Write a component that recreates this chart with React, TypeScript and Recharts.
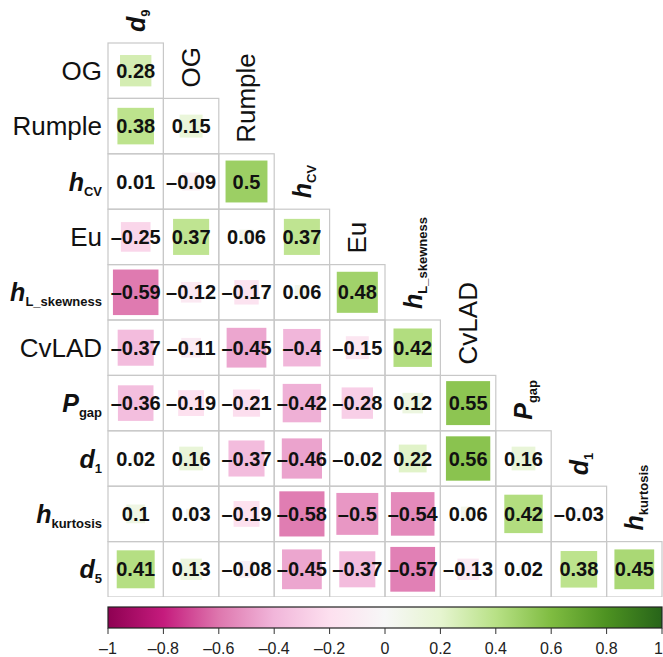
import React from "react";
import { ScatterChart, Scatter, XAxis, YAxis, ComposedChart, ReferenceArea } from "recharts";

// variable names: base symbol + subscript (symbols with a subscript are set in italic)
const labelBase = ["d", "OG", "Rumple", "h", "Eu", "h", "CvLAD", "P", "d", "h", "d"];
const labelSub = ["9", "", "", "CV", "", "L_skewness", "", "gap", "1", "kurtosis", "5"];

// lower triangle of the correlation matrix, one array per row (OG .. d5)
const rowOG = [0.28];
const rowRumple = [0.38, 0.15];
const rowHcv = [0.01, -0.09, 0.5];
const rowEu = [-0.25, 0.37, 0.06, 0.37];
const rowHskew = [-0.59, -0.12, -0.17, 0.06, 0.48];
const rowCvLAD = [-0.37, -0.11, -0.45, -0.4, -0.15, 0.42];
const rowPgap = [-0.36, -0.19, -0.21, -0.42, -0.28, 0.12, 0.55];
const rowD1 = [0.02, 0.16, -0.37, -0.46, -0.02, 0.22, 0.56, 0.16];
const rowHkurt = [0.1, 0.03, -0.19, -0.58, -0.5, -0.54, 0.06, 0.42, -0.03];
const rowD5 = [0.41, 0.13, -0.08, -0.45, -0.37, -0.57, -0.13, 0.02, 0.38, 0.45];

const corrRows = [rowOG, rowRumple, rowHcv, rowEu, rowHskew, rowCvLAD, rowPgap, rowD1, rowHkurt, rowD5];

// colour bar range and ticks
const barRange = [-1, 1];
const barTicks = [-1, -0.8, -0.6, -0.4, -0.2, 0, 0.2, 0.4, 0.6, 0.8, 1];

// PiYG diverging palette
const piygColors = [
  "#8e0152", "#c51b7d", "#de77ae", "#f1b6da", "#fde0ef", "#f7f7f7",
  "#e6f5d0", "#b8e186", "#7fbc41", "#4d9221", "#276419",
];

const FONT = "Arial, 'Liberation Sans', Helvetica, sans-serif";
const N = 10;
const W = 663;
const GRID_LEFT = 108;
const GRID_TOP = 43;
const GRID_SIZE = 554;
const CELL = GRID_SIZE / N;

const cells = corrRows.flatMap((row, r) =>
  row.map((v, c) => ({ x: c + 0.5, y: r + 0.5, v, r, c }))
);

const barData = barRange.map((x, i) => ({ x, y: i }));

const hex = (h: string) => [1, 3, 5].map((i) => parseInt(h.slice(i, i + 2), 16));

function piyg(v: number) {
  const t = Math.max(0, Math.min(1, (v + 1) / 2)) * (piygColors.length - 1);
  const i = Math.min(Math.floor(t), piygColors.length - 2);
  const f = t - i;
  const a = hex(piygColors[i]);
  const b = hex(piygColors[i + 1]);
  const m = a.map((x, k) => Math.round(x + (b[k] - x) * f));
  return `rgb(${m[0]},${m[1]},${m[2]})`;
}

const fmt = (v: number) => String(v).replace("-", "\u2013");

function VarLabel({ x, y, idx, anchor, rotate }: { x: number; y: number; idx: number; anchor: "start" | "end"; rotate?: boolean }) {
  const sub = labelSub[idx];
  const italic = sub !== "";
  return (
    <text
      x={x}
      y={y}
      textAnchor={anchor}
      fontFamily={FONT}
      fill="#111"
      transform={rotate ? `rotate(-90 ${x} ${y})` : undefined}
    >
      <tspan fontSize={italic ? 25 : 26} fontStyle={italic ? "italic" : "normal"} fontWeight={italic ? 700 : 400}>
        {labelBase[idx]}
      </tspan>
      {italic && (
        <tspan fontSize={13} fontWeight={700} dy={5}>
          {sub}
        </tspan>
      )}
    </text>
  );
}

const CorrCell = (props: any) => {
  const { cx, cy, payload } = props;
  const { v, r, c } = payload;
  const half = CELL / 2;
  const side = CELL * Math.sqrt(Math.abs(v)) * 1.07;
  return (
    <g>
      <rect x={cx - half} y={cy - half} width={CELL} height={CELL} fill="none" stroke="#c8c8c8" strokeWidth={1.2} />
      <rect x={cx - side / 2} y={cy - side / 2} width={side} height={side} fill={piyg(v)} />
      <text x={cx} y={cy + 7} textAnchor="middle" fontSize={20} fontWeight={700} fontFamily={FONT} fill="#111">
        {fmt(v)}
      </text>
      {c === 0 && <VarLabel x={cx - half - 6} y={cy + 9} idx={r + 1} anchor="end" />}
      {c === r && <VarLabel x={cx + 9} y={cy - half - 11} idx={c} anchor="start" rotate />}
    </g>
  );
};

const ColorBar = (p: any) => (
  <g>
    <defs>
      <linearGradient id="piygBar" x1="0" y1="0" x2="1" y2="0">
        {piygColors.map((col, i) => (
          <stop key={i} offset={i / (piygColors.length - 1)} stopColor={col} />
        ))}
      </linearGradient>
    </defs>
    <rect x={p.x} y={p.y} width={p.width} height={p.height} fill="url(#piygBar)" stroke="#222" strokeWidth={1.2} />
  </g>
);

// last label sits at the right page edge, so it is right-aligned there
const BarTick = (p: any) => {
  const { x, y, payload } = p;
  const last = payload.value === barTicks[barTicks.length - 1];
  return (
    <text
      x={last ? x + 1 : x}
      y={y}
      dy={17.5}
      textAnchor={last ? "end" : "middle"}
      fontSize={16}
      fontFamily={FONT}
      fill="#222"
    >
      {fmt(payload.value)}
    </text>
  );
};

export default function App() {
  return (
    <div style={{ position: "absolute", left: 0, top: 0, fontFamily: FONT, background: "#fff" }}>
      <ScatterChart
        width={W}
        height={GRID_TOP + GRID_SIZE}
        margin={{ top: GRID_TOP, right: W - GRID_LEFT - GRID_SIZE, bottom: 0, left: GRID_LEFT }}
      >
        <XAxis type="number" dataKey="x" domain={[0, N]} hide />
        <YAxis type="number" dataKey="y" domain={[0, N]} reversed hide />
        <Scatter data={cells} isAnimationActive={false} shape={(p: any) => <CorrCell {...p} />} />
      </ScatterChart>
      <ComposedChart
        width={W}
        height={60}
        data={barData}
        margin={{ top: 10, right: W - GRID_LEFT - GRID_SIZE, bottom: 0, left: GRID_LEFT }}
      >
        <XAxis
          type="number"
          dataKey="x"
          domain={barRange}
          ticks={barTicks}
          interval={0}
          axisLine={false}
          tickSize={6}
          tickLine={{ stroke: "#333" }}
          tick={<BarTick />}
          height={29}
        />
        <YAxis type="number" dataKey="y" domain={[0, 1]} hide />
        <ReferenceArea x1={-1} x2={1} y1={0} y2={1} shape={ColorBar} ifOverflow="visible" />
      </ComposedChart>
    </div>
  );
}
